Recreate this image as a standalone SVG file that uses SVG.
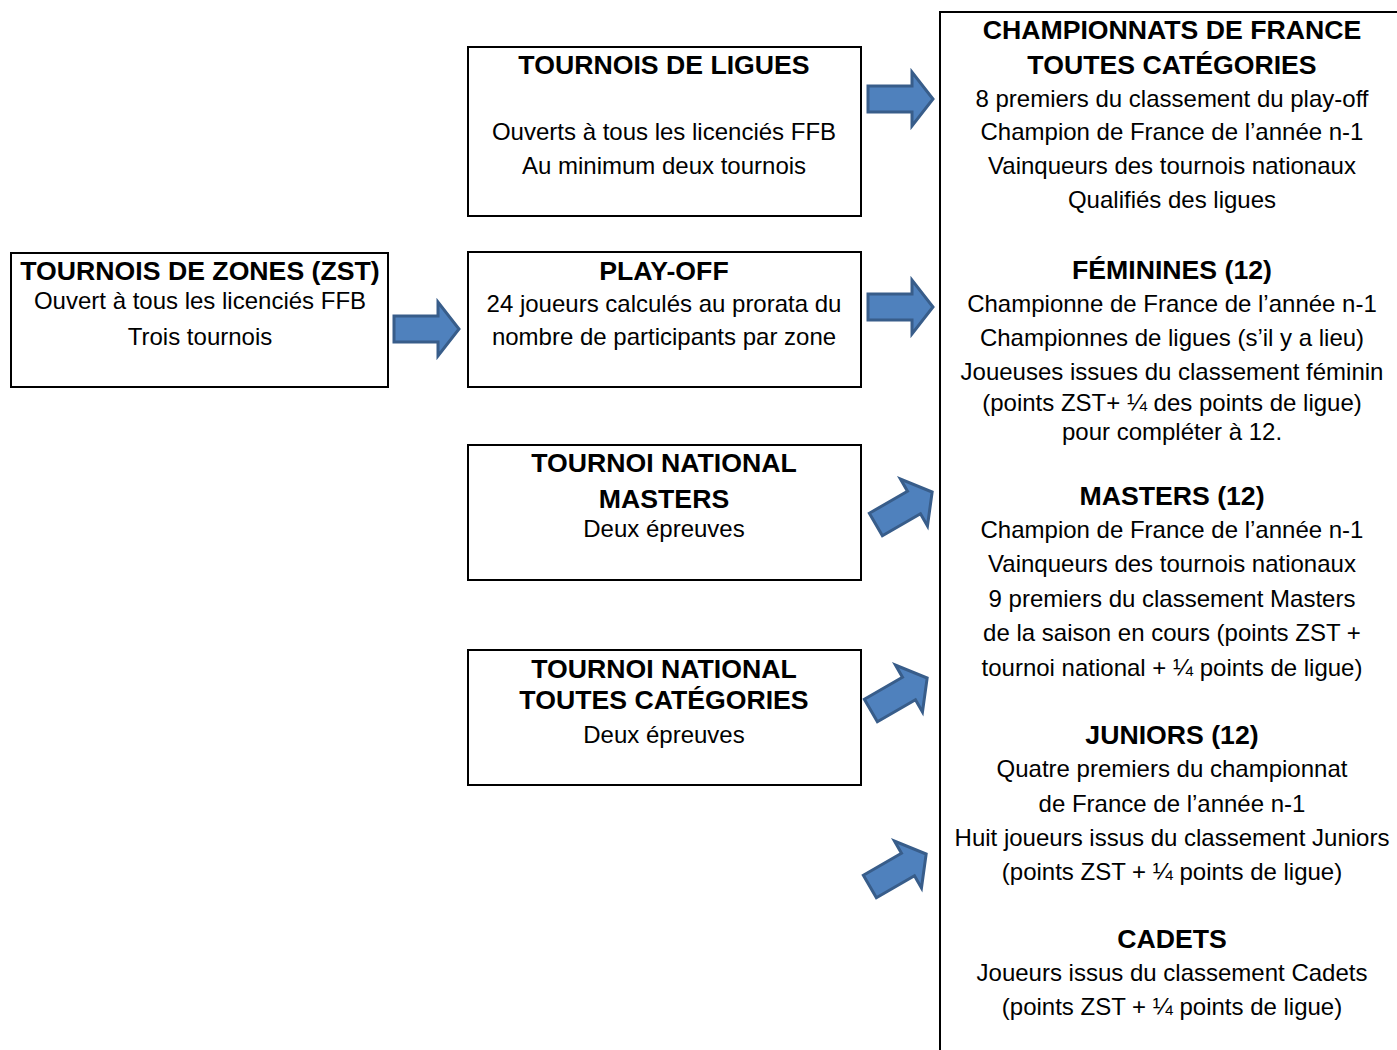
<svg xmlns="http://www.w3.org/2000/svg" width="1397" height="1050" viewBox="0 0 1397 1050">
<defs>
<style>
.box{fill:#fff;stroke:#000;stroke-width:2}
text{font-family:"Liberation Sans",Arial,sans-serif;font-size:24px;fill:#000;text-anchor:middle}
.h{font-weight:bold;font-size:26.67px}
.arr{fill:#4F81BD;stroke:#385D8A;stroke-width:3;stroke-linejoin:miter}
</style>
<path id="arrow" d="M1,-13 H45 V-27 L66,0 L45,27 V13 H1 Z"/>
</defs>
<rect width="1397" height="1050" fill="#fff"/>

<g id="ligues">
<rect class="box" x="468" y="47" width="393" height="169"/>
<text class="h" x="664" y="74">TOURNOIS DE LIGUES</text>
<text x="664" y="140">Ouverts à tous les licenciés FFB</text>
<text x="664" y="174">Au minimum deux tournois</text>
</g>

<g id="zst">
<rect class="box" x="11" y="253" width="377" height="134"/>
<text class="h" x="200" y="280">TOURNOIS DE ZONES (ZST)</text>
<text x="200" y="309">Ouvert à tous les licenciés FFB</text>
<text x="200" y="345">Trois tournois</text>
</g>

<g id="playoff">
<rect class="box" x="468" y="252" width="393" height="135"/>
<text class="h" x="664" y="280">PLAY-OFF</text>
<text x="664" y="312">24 joueurs calculés au prorata du</text>
<text x="664" y="345">nombre de participants par zone</text>
</g>

<g id="masters">
<rect class="box" x="468" y="445" width="393" height="135"/>
<text class="h" x="664" y="472">TOURNOI NATIONAL</text>
<text class="h" x="664" y="508">MASTERS</text>
<text x="664" y="537">Deux épreuves</text>
</g>

<g id="national">
<rect class="box" x="468" y="650" width="393" height="135"/>
<text class="h" x="664" y="678">TOURNOI NATIONAL</text>
<text class="h" x="664" y="709">TOUTES CATÉGORIES</text>
<text x="664" y="743">Deux épreuves</text>
</g>

<g id="championnats">
<rect class="box" x="940" y="12" width="470" height="1050"/>
<text class="h" x="1172" y="39">CHAMPIONNATS DE FRANCE</text>
<text class="h" x="1172" y="74">TOUTES CATÉGORIES</text>
<text x="1172" y="107">8 premiers du classement du play-off</text>
<text x="1172" y="140">Champion de France de l’année n-1</text>
<text x="1172" y="174">Vainqueurs des tournois nationaux</text>
<text x="1172" y="208">Qualifiés des ligues</text>
<text class="h" x="1172" y="279">FÉMININES (12)</text>
<text x="1172" y="312">Championne de France de l’année n-1</text>
<text x="1172" y="346">Championnes de ligues (s’il y a lieu)</text>
<text x="1172" y="380">Joueuses issues du classement féminin</text>
<text x="1172" y="411">(points ZST+ ¼ des points de ligue)</text>
<text x="1172" y="440">pour compléter à 12.</text>
<text class="h" x="1172" y="505">MASTERS (12)</text>
<text x="1172" y="538">Champion de France de l’année n-1</text>
<text x="1172" y="572">Vainqueurs des tournois nationaux</text>
<text x="1172" y="607">9 premiers du classement Masters</text>
<text x="1172" y="641">de la saison en cours (points ZST +</text>
<text x="1172" y="676">tournoi national + ¼ points de ligue)</text>
<text class="h" x="1172" y="744">JUNIORS (12)</text>
<text x="1172" y="777">Quatre premiers du championnat</text>
<text x="1172" y="812">de France de l’année n-1</text>
<text x="1172" y="846">Huit joueurs issus du classement Juniors</text>
<text x="1172" y="880">(points ZST + ¼ points de ligue)</text>
<text class="h" x="1172" y="948">CADETS</text>
<text x="1172" y="981">Joueurs issus du classement Cadets</text>
<text x="1172" y="1015">(points ZST + ¼ points de ligue)</text>
</g>

<g id="connectors">
<use href="#arrow" class="arr" transform="translate(867,99)"/>
<use href="#arrow" class="arr" transform="translate(393,329)"/>
<use href="#arrow" class="arr" transform="translate(867,307)"/>
<use href="#arrow" class="arr" transform="translate(875,525) rotate(-30)"/>
<use href="#arrow" class="arr" transform="translate(870,711) rotate(-30)"/>
<use href="#arrow" class="arr" transform="translate(869,887) rotate(-30)"/>
</g>
</svg>
